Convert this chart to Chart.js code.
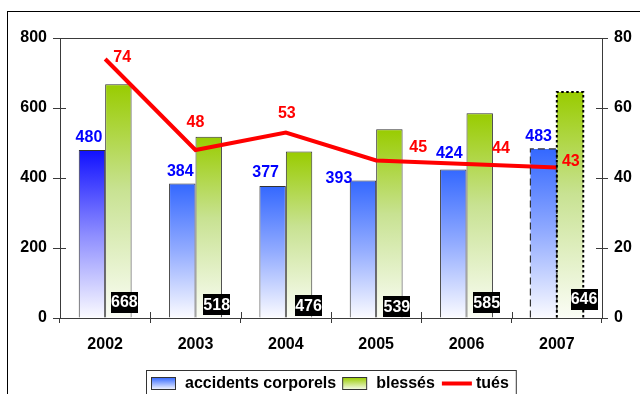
<!DOCTYPE html>
<html>
<head>
<meta charset="utf-8">
<script src="https://cdn.jsdelivr.net/npm/chart.js"></script>
<style>
  html, body { margin: 0; padding: 0; background: #fff; }
  #wrap { width: 640px; height: 394px; }
</style>
</head>
<body>
<div id="wrap"><canvas id="c" width="640" height="394"></canvas></div>
<script>
// Road accident figures per year
const years = ['2002', '2003', '2004', '2005', '2006', '2007'];
const accidents = [480, 384, 377, 393, 424, 483];   // accidents corporels (left axis)
const blesses = [668, 518, 476, 539, 585, 646];     // blessés (left axis)
const tues = [74, 48, 53, 45, 44, 43];              // tués (right axis)
const leftTicks = [0, 200, 400, 600, 800];
const rightTicks = [0, 20, 40, 60, 80];

// label nudges (pixels) relative to the mark they describe
const accLabelShift = [[-3, -12], [-2, -12], [-7, -13], [-24, -2], [-4, -16], [-5, -12]];
const blesLabelShift = [[6, -15.5], [8, -13], [9.5, -12], [7.5, -11], [7, -15], [14, -18.5]];
const tuesLabelShift = [[17, -1], [0, -27], [1, -18.5], [42, -12.5], [34.5, -15], [14, -5.5]];

const FONT = '"Liberation Sans", Arial, Helvetica, sans-serif';
const AXIS = '#3a3a3a';

function blueStops(g, first) {
  g.addColorStop(0, first ? '#1010ff' : '#3468ff');
  g.addColorStop(0.5, first ? '#8c8cff' : '#93acff');
  g.addColorStop(1, '#fbfbff');
  return g;
}
function greenStops(g) {
  g.addColorStop(0, '#99cc00');
  g.addColorStop(0.45, '#c8e292');
  g.addColorStop(1, '#fbfdf6');
  return g;
}

function barGradient(kind) {
  return function (ctx) {
    const chart = ctx.chart;
    if (!chart.chartArea || ctx.type !== 'data') return kind === 'blue' ? '#3468ff' : '#99cc00';
    const y = chart.scales.y;
    const top = y.getPixelForValue(ctx.raw);
    const bottom = y.getPixelForValue(0);
    const g = chart.ctx.createLinearGradient(0, top, 0, bottom);
    return kind === 'blue' ? blueStops(g, ctx.dataIndex === 0) : greenStops(g);
  };
}

// frames, inner tick stubs, dashed 2007 bars, value labels, legend
const decorations = {
  id: 'decorations',
  beforeDraw(chart) {
    const c = chart.ctx;
    c.save();
    c.fillStyle = '#fff';
    c.fillRect(0, 0, chart.width, chart.height);
    c.restore();
  },
  afterDatasetsDraw(chart) {
    const c = chart.ctx;
    const area = chart.chartArea;
    c.save();
    // plot frame top line
    c.strokeStyle = AXIS;
    c.lineWidth = 1;
    c.beginPath();
    c.moveTo(area.left, Math.round(area.top) + 0.5);
    c.lineTo(area.right, Math.round(area.top) + 0.5);
    c.stroke();

    // inner tick stubs
    const ys = chart.scales.y, y1 = chart.scales.y1, xs = chart.scales.x;
    c.beginPath();
    ys.ticks.forEach((t, i) => {
      const p = Math.round(ys.getPixelForTick(i)) + 0.5;
      c.moveTo(area.left, p); c.lineTo(area.left + 6, p);
    });
    y1.ticks.forEach((t, i) => {
      const p = Math.round(y1.getPixelForTick(i)) + 0.5;
      c.moveTo(area.right - 6, p); c.lineTo(area.right, p);
    });
    for (let i = 0; i <= years.length; i++) {
      const p = Math.round(xs.getPixelForValue(i - 0.5)) + 0.5;
      c.moveTo(p, area.bottom - 6); c.lineTo(p, area.bottom);
    }
    c.stroke();

    // 2007 bars: dashed / dotted outlines
    const last = years.length - 1;
    const bA = chart.getDatasetMeta(1).data[last];
    const bB = chart.getDatasetMeta(2).data[last];
    [[bA, [7, 4], 1.2, '#333'], [bB, [2.5, 2.5], 2, '#000']].forEach(([el, dash, w, col]) => {
      const l = el.x - el.width / 2, r = el.x + el.width / 2;
      c.setLineDash(dash);
      c.lineWidth = w;
      c.strokeStyle = col;
      c.beginPath();
      c.moveTo(l, el.base); c.lineTo(l, el.y); c.lineTo(r, el.y); c.lineTo(r, el.base);
      c.stroke();
    });
    c.setLineDash([]);

    // value labels
    c.font = 'bold 16px ' + FONT;
    c.textAlign = 'center';
    c.textBaseline = 'middle';
    const mA = chart.getDatasetMeta(1), mB = chart.getDatasetMeta(2), mT = chart.getDatasetMeta(0);
    accidents.forEach((v, i) => {
      const el = mA.data[i];
      c.fillStyle = '#0000ff';
      c.fillText(String(v), el.x + accLabelShift[i][0], el.y + accLabelShift[i][1]);
    });
    blesses.forEach((v, i) => {
      const el = mB.data[i];
      const cx = el.x + blesLabelShift[i][0], cy = el.base + blesLabelShift[i][1];
      c.fillStyle = '#000';
      c.fillRect(Math.round(cx - 13.5), Math.round(cy - 10.5), 27, 21);
      c.fillStyle = '#fff';
      c.fillText(String(v), cx, cy + 1);
    });
    tues.forEach((v, i) => {
      const el = mT.data[i];
      c.fillStyle = '#ff0000';
      c.fillText(String(v), el.x + tuesLabelShift[i][0], el.y + tuesLabelShift[i][1]);
    });
    c.restore();
  },
  afterDraw(chart) {
    const c = chart.ctx;
    c.save();
    // outer frame
    c.strokeStyle = '#000';
    c.lineWidth = 1;
    c.strokeRect(7.5, 11.5, 720, 500);

    // legend
    const top = 370, boxTop = 377.5, boxH = 12;
    c.font = 'bold 16px ' + FONT;
    c.textBaseline = 'middle';
    c.textAlign = 'left';
    let x = 151;
    const items = [
      { text: 'accidents corporels', kind: 'blue' },
      { text: 'blessés', kind: 'green' },
      { text: 'tués', kind: 'line' }
    ];
    const start = 146;
    items.forEach((it, k) => {
      if (it.kind === 'line') {
        c.strokeStyle = '#ff0000';
        c.lineWidth = 4;
        c.beginPath();
        c.moveTo(x, 383.5); c.lineTo(x + 30, 383.5);
        c.stroke();
        x += 34;
      } else {
        const g = c.createLinearGradient(0, boxTop, 0, boxTop + boxH);
        if (it.kind === 'blue') {
          g.addColorStop(0, '#3468ff'); g.addColorStop(1, '#f4f6ff');
        } else {
          g.addColorStop(0, '#99cc00'); g.addColorStop(1, '#f6fbea');
        }
        c.fillStyle = g;
        c.fillRect(x + 0.5, boxTop, 24, boxH);
        c.strokeStyle = '#333';
        c.lineWidth = 1;
        c.strokeRect(x + 0.5, boxTop, 24, boxH);
        x += 34;
      }
      c.fillStyle = '#000';
      c.fillText(it.text, x, 384);
      x += c.measureText(it.text).width + (k === 0 ? 6 : 7);
    });
    c.strokeStyle = '#333';
    c.lineWidth = 1;
    c.strokeRect(start + 0.5, top + 0.5, x - start + 0, 40);
    c.restore();
  }
};

const chart = new Chart(document.getElementById('c'), {
  type: 'bar',
  data: {
    labels: years,
    datasets: [
      {
        type: 'line',
        label: 'tués',
        data: tues,
        yAxisID: 'y1',
        borderColor: '#ff0000',
        backgroundColor: '#ff0000',
        borderWidth: 4,
        pointRadius: 0,
        tension: 0,
        order: 0
      },
      {
        label: 'accidents corporels',
        data: accidents,
        yAxisID: 'y',
        backgroundColor: barGradient('blue'),
        borderColor: '#333',
        borderWidth: (ctx) => (ctx.dataIndex === years.length - 1 ? 0 : 1),
        borderSkipped: 'bottom',
        order: 1
      },
      {
        label: 'blessés',
        data: blesses,
        yAxisID: 'y',
        backgroundColor: barGradient('green'),
        borderColor: '#333',
        borderWidth: (ctx) => (ctx.dataIndex === years.length - 1 ? 0 : 1),
        borderSkipped: 'bottom',
        order: 1
      }
    ]
  },
  options: {
    responsive: false,
    animation: false,
    devicePixelRatio: 1,
    categoryPercentage: 0.585,
    barPercentage: 1,
    layout: { padding: { top: 38, left: 0, right: 0, bottom: 0 } },
    plugins: {
      legend: { display: false },
      tooltip: { enabled: false }
    },
    scales: {
      x: {
        offset: true,
        grid: { offset: true, drawOnChartArea: false, drawTicks: true, tickLength: 5, color: AXIS },
        border: { display: true, color: AXIS, width: 1 },
        ticks: { color: '#000', font: { family: FONT, size: 16, weight: 'bold' }, padding: 12, maxRotation: 0 },
        afterFit(s) { s.height = 76; }
      },
      y: {
        position: 'left',
        min: 0, max: 800,
        afterBuildTicks(s) { s.ticks = leftTicks.map(v => ({ value: v })); },
        grid: { drawOnChartArea: false, drawTicks: true, tickLength: 7, color: AXIS },
        border: { display: true, color: AXIS, width: 1 },
        ticks: { color: '#000', font: { family: FONT, size: 16, weight: 'bold' }, padding: 6 },
        afterFit(s) { s.width = 60; }
      },
      y1: {
        position: 'right',
        min: 0, max: 80,
        afterBuildTicks(s) { s.ticks = rightTicks.map(v => ({ value: v })); },
        grid: { drawOnChartArea: false, drawTicks: true, tickLength: 6, color: AXIS },
        border: { display: true, color: AXIS, width: 1 },
        ticks: { color: '#000', font: { family: FONT, size: 16, weight: 'bold' }, padding: 6 },
        afterFit(s) { s.width = 38; }
      }
    }
  },
  plugins: [decorations]
});
</script>
</body>
</html>
